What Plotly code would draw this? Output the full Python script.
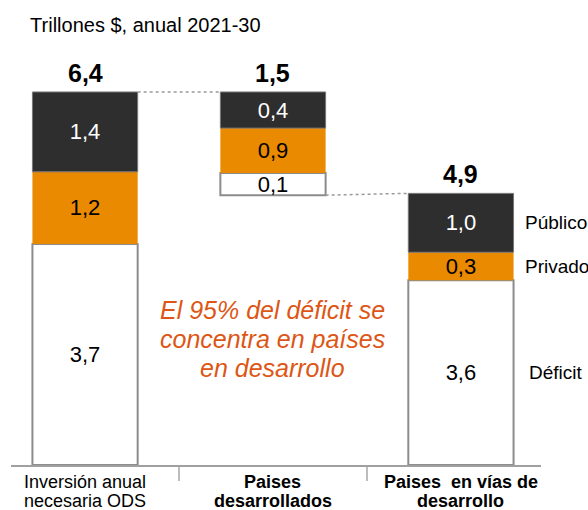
import plotly.graph_objects as go

# ============================================================
# DATOS
# ============================================================

categorias = [("Inversión anual", "necesaria ODS"),
              ("Paises", "desarrollados"),
              ("Paises  en vías de", "desarrollo")]
categoria_negrita = [False, True, True]

totales = [6.4, 1.5, 4.9]

# valores de cada tramo (etiquetas)
deficit = [3.7, 0.1, 3.6]
privado = [1.2, 0.9, 0.3]
publico = [1.4, 0.4, 1.0]

# alturas dibujadas (el original no está a escala)
alto_deficit = [3.79, 0.38, 3.17]
alto_privado = [1.24, 0.77, 0.48]
alto_publico = [1.37, 0.62, 1.01]

nombres_tramos = ["Déficit", "Privado", "Público"]

mensaje = ["El 95% del déficit se", "concentra en países", "en desarrollo"]

# ============================================================
# POSICIONES
# ============================================================

x = [0, 1, 2]
ancho = 0.56

# la barra central flota: su techo coincide con el total de la primera
techo1 = alto_deficit[0] + alto_privado[0] + alto_publico[0]
base = [0, techo1 - (alto_deficit[1] + alto_privado[1] + alto_publico[1]), 0]
base_priv = [b + d for b, d in zip(base, alto_deficit)]
base_pub = [b + p for b, p in zip(base_priv, alto_privado)]
techo = [b + p for b, p in zip(base_pub, alto_publico)]


def fmt(v):
    return f"{v:.1f}".replace(".", ",")


NEGRO = "#2e2e2e"
NARANJA = "#e98a00"
GRIS = "#8c8c8c"
FUENTE = "Liberation Sans, Arial, sans-serif"

fig = go.Figure()

tramos = [
    (alto_deficit, base, deficit, dict(color="white", line=dict(color=GRIS, width=2)), "black", "Déficit"),
    (alto_privado, base_priv, privado, dict(color=NARANJA, line=dict(width=0)), "black", "Privado"),
    (alto_publico, base_pub, publico, dict(color=NEGRO, line=dict(color="#777777", width=1)), "white", "Público"),
]
for alto, b, vals, marcador, color_txt, nombre in tramos:
    fig.add_trace(go.Bar(
        x=x, y=alto, base=b, width=ancho, marker=marcador,
        text=[fmt(v) for v in vals], textposition="inside",
        insidetextanchor="middle", textangle=0,
        textfont=dict(color=color_txt, size=22, family=FUENTE),
        name=nombre, hoverinfo="skip"
    ))

# TOTALES
for xi, t, v in zip(x, techo, totales):
    fig.add_annotation(x=xi, y=t, text=f"<b>{fmt(v)}</b>", showarrow=False,
                       yanchor="bottom", yshift=3,
                       font=dict(size=25, color="black", family=FUENTE))

# CONECTORES PUNTEADOS
fig.add_shape(type="line", x0=x[0] + ancho / 2, x1=x[1] - ancho / 2,
              y0=techo[0], y1=techo[0],
              line=dict(color="#9a9a9a", width=1.5, dash="dot"))
fig.add_shape(type="line", x0=x[1] + ancho / 2, x1=x[2] - ancho / 2,
              y0=base[1], y1=techo[2],
              line=dict(color="#9a9a9a", width=1.5, dash="dot"))

# ETIQUETAS LATERALES
medios = [base[2] + alto_deficit[2] / 2,
          base_priv[2] + alto_privado[2] / 2,
          base_pub[2] + alto_publico[2] / 2]
for nombre, ym in zip(nombres_tramos, medios):
    fig.add_annotation(x=x[2] + ancho / 2, y=ym, text=nombre, showarrow=False,
                       xanchor="left", xshift=13 if nombre == "Déficit" else 9,
                       font=dict(size=19, color="black", family=FUENTE))

# MENSAJE
for i, linea in enumerate(mensaje):
    fig.add_annotation(x=1, y=2.16, text=f"<i>{linea}</i>", showarrow=False,
                       yshift=(1 - i) * 29,
                       font=dict(size=25, color="#dd5615", family=FUENTE))

# CATEGORÍAS
for xi, (l1, l2), neg in zip(x, categorias, categoria_negrita):
    for j, linea in enumerate((l1, l2)):
        fig.add_annotation(x=xi, xref="x", y=0, yref="paper",
                           text=f"<b>{linea}</b>" if neg else linea,
                           showarrow=False, yanchor="middle",
                           yshift=-17 - 19 * j,
                           font=dict(size=18, color="black", family=FUENTE))

fig.update_layout(
    width=588, height=510,
    margin=dict(l=11, r=47, t=57, b=45),
    plot_bgcolor="white", paper_bgcolor="white",
    barmode="overlay", showlegend=False,
    font=dict(family=FUENTE, color="black"),
    uniformtext=dict(minsize=22, mode="show"),
    title=dict(text="Trillones $, anual 2021-30", xref="paper", x=0.036,
               xanchor="left", yref="container", y=0.951, yanchor="middle",
               font=dict(size=20, color="black", family=FUENTE)),
    xaxis=dict(
        range=[-0.394, 2.426], showgrid=False, zeroline=False,
        showline=True, linecolor="#a0a0a0", linewidth=2,
        showticklabels=False, ticks="",
        minor=dict(tickvals=[0.5, 1.5], ticks="outside", ticklen=14,
                   tickcolor="#bdbdbd", tickwidth=2),
    ),
    yaxis=dict(range=[0, 7.0], visible=False, showgrid=False, zeroline=False),
)

fig.write_html("out.html", config={"displayModeBar": False},
               post_script="document.body.style.margin='0';")
